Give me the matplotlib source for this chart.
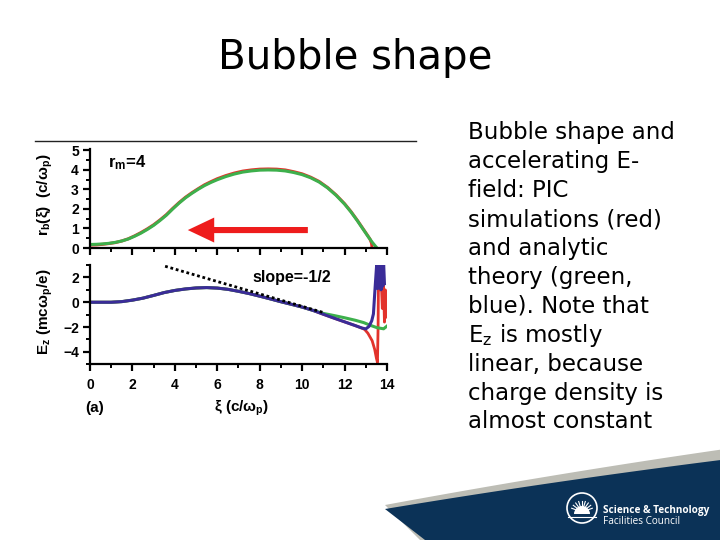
import numpy as np
import matplotlib.pyplot as plt
from matplotlib.patches import Polygon, Circle, Wedge

# top panel: bubble radius r_b(xi)
xi_rb_green = [0, 0.3, 0.6, 0.9, 1.2, 1.5, 1.8, 2.1, 2.4, 2.7, 3.0, 3.3, 3.6, 3.9,
               4.2, 4.5, 4.8, 5.1, 5.4, 5.7, 6.0, 6.4, 6.8, 7.2, 7.6, 8.0, 8.4,
               8.8, 9.2, 9.6, 10.0, 10.4, 10.8, 11.2, 11.6, 12.0, 12.3, 12.6,
               12.9, 13.1, 13.3, 13.45, 13.53]
rb_green = [0.18, 0.19, 0.21, 0.24, 0.29, 0.36, 0.46, 0.6, 0.76, 0.95, 1.16, 1.41,
            1.68, 2.0, 2.3, 2.57, 2.8, 3.01, 3.2, 3.36, 3.5, 3.66, 3.79, 3.89,
            3.95, 3.99, 4.0, 3.99, 3.95, 3.87, 3.76, 3.6, 3.38, 3.08, 2.7, 2.25,
            1.85, 1.4, 0.92, 0.6, 0.3, 0.1, 0.0]
xi_rb_red = [0, 0.3, 0.6, 0.9, 1.2, 1.5, 1.8, 2.1, 2.4, 2.7, 3.0, 3.3, 3.6, 3.9,
             4.2, 4.5, 4.8, 5.1, 5.4, 5.7, 6.0, 6.4, 6.8, 7.2, 7.6, 8.0, 8.4,
             8.8, 9.2, 9.6, 10.0, 10.4, 10.8, 11.2, 11.6, 12.0, 12.3, 12.6,
             12.9, 13.1, 13.2, 13.27, 13.3]
rb_red = [0.15, 0.16, 0.19, 0.23, 0.28, 0.36, 0.47, 0.62, 0.79, 0.98, 1.19, 1.44,
          1.71, 2.03, 2.33, 2.6, 2.83, 3.04, 3.24, 3.4, 3.55, 3.71, 3.84, 3.94,
          4.0, 4.04, 4.05, 4.04, 4.0, 3.91, 3.8, 3.63, 3.41, 3.1, 2.72, 2.27,
          1.87, 1.42, 0.94, 0.62, 0.45, 0.25, 0.0]

# bottom panel: accelerating field E_z
xi_ez_blue = [0, 0.5, 1.0, 1.5, 2.0, 2.5, 3.0, 3.5, 4.0, 4.5, 5.0, 5.5, 6.0, 6.5,
              7.0, 7.5, 8.0, 8.5, 9.0, 9.5, 10.0, 10.5, 11.0, 11.5, 12.0, 12.5,
              12.8, 13.0, 13.15, 13.28, 13.36, 13.44, 13.52, 13.56, 13.6, 13.64,
              13.68, 13.72, 13.76, 13.8, 13.84, 13.88]
ez_blue = [0, 0, 0.0, 0.05, 0.17, 0.33, 0.55, 0.78, 0.95, 1.07, 1.15, 1.18, 1.14,
           1.04, 0.88, 0.7, 0.49, 0.27, 0.04, -0.17, -0.39, -0.65, -0.97, -1.28,
           -1.58, -1.88, -2.07, -2.15, -1.95, -1.5, -0.94, 1.2, 3.2, 1.1, 3.2,
           1.2, 3.2, 1.0, 3.2, 1.3, 3.2, 1.5]
xi_ez_green = [0, 0.5, 1.0, 1.5, 2.0, 2.5, 3.0, 3.5, 4.0, 4.5, 5.0, 5.5, 6.0, 6.5,
               7.0, 7.5, 8.0, 8.5, 9.0, 9.5, 10.0, 10.5, 11.0, 11.5, 12.0, 12.5,
               12.9, 13.2, 13.53, 13.84, 14.0]
ez_green = [0, 0, 0.0, 0.05, 0.17, 0.33, 0.55, 0.78, 0.95, 1.07, 1.15, 1.18, 1.14,
            1.04, 0.88, 0.7, 0.49, 0.27, 0.04, -0.17, -0.39, -0.65, -0.9, -1.07,
            -1.25, -1.45, -1.64, -1.85, -2.05, -2.14, -1.92]
xi_ez_red = [0, 0.5, 1.0, 1.5, 2.0, 2.5, 3.0, 3.5, 4.0, 4.5, 5.0, 5.5, 6.0, 6.5,
             7.0, 7.5, 8.0, 8.5, 9.0, 9.5, 10.0, 10.5, 11.0, 11.5, 12.0, 12.5,
             12.8, 12.95, 13.1, 13.3, 13.42, 13.5, 13.55, 13.58, 13.6, 13.66,
             13.72, 13.78, 13.83, 13.88, 13.92, 13.95]
ez_red = [0, 0, 0.0, 0.05, 0.17, 0.33, 0.55, 0.78, 0.95, 1.07, 1.15, 1.18, 1.14,
          1.04, 0.88, 0.7, 0.49, 0.27, 0.04, -0.17, -0.39, -0.65, -0.97, -1.28,
          -1.58, -1.88, -2.07, -2.2, -2.5, -3.1, -3.8, -4.5, -4.85, -2.0, 2.2,
          1.0, 2.0, -0.5, 1.8, -1.6, 1.0, -1.2]
slope_x = [3.54, 11.0]
slope_y = [2.9, -0.83]

body_lines = ["Bubble shape and", "accelerating E-", "field: PIC",
              "simulations (red)", "and analytic", "theory (green,",
              "blue). Note that", r"E$_\mathregular{z}$ is mostly",
              "linear, because", "charge density is", "almost constant"]

RED = '#e2332c'
GREEN = '#3db04c'
BLUE = '#3a2c98'
NAVY = '#0b3257'

plt.rcParams['mathtext.fontset'] = 'custom'
plt.rcParams['mathtext.rm'] = 'Liberation Sans:bold'
plt.rcParams['mathtext.it'] = 'Liberation Sans:bold'
plt.rcParams['mathtext.bf'] = 'Liberation Sans:bold'

fig = plt.figure(figsize=(7.2, 5.4), dpi=100)

# slide background: banner and logo
bg = fig.add_axes([0, 0, 1, 1])
bg.set_xlim(0, 720)
bg.set_ylim(540, 0)
bg.axis('off')
bx = np.linspace(385, 720, 60)
gray_top = 505 - (bx - 385) * 0.165 - 0.00006 * (bx - 385) * (720 - bx)
blue_top = 509 - (bx - 385) * 0.146 - 0.00006 * (bx - 385) * (720 - bx)
bg.add_patch(Polygon(np.column_stack([np.r_[bx, 720, 420], np.r_[gray_top, 540, 540]]),
                     closed=True, fc='#bdbdb5', ec='none'))
bg.add_patch(Polygon(np.column_stack([np.r_[bx, 720, 425], np.r_[blue_top, 540, 540]]),
                     closed=True, fc=NAVY, ec='none'))
bg.add_patch(Circle((582, 508), 15, fc='none', ec='white', lw=1.2))
bg.add_patch(Wedge((582, 514), 8, 180, 360, fc='white', ec='none'))
for a in np.linspace(200, 340, 9):
    r = np.deg2rad(a)
    bg.plot([582 + 3 * np.cos(r), 582 + 11 * np.cos(r)],
            [512 + 3 * np.sin(r), 512 + 11 * np.sin(r)], color='white', lw=0.8)
bg.plot([568, 596], [517, 517], color='white', lw=0.8)
bg.text(603, 510, "Science & Technology", color='white', fontsize=7.2,
        fontweight='bold', family='Open Sans', va='center')
bg.text(603, 521, "Facilities Council", color='white', fontsize=7.2,
        family='Open Sans', va='center')
bg.plot([35, 416], [141, 141], color='#222222', lw=1.0)

fig.text(355 / 720, 1 - 58 / 540, "Bubble shape", fontsize=29, family='DejaVu Sans',
         ha='center', va='center')
for i, line in enumerate(body_lines):
    fig.text(468 / 720, 1 - (133 + 28.9 * i) / 540, line, fontsize=16.5,
             family='DejaVu Sans', ha='left', va='center')

tick_font = dict(family='Liberation Sans', weight='bold', size=10)


def style(ax):
    for s in ['top', 'right']:
        ax.spines[s].set_visible(False)
    for s in ['left', 'bottom']:
        ax.spines[s].set_linewidth(1.6)
    ax.tick_params(which='major', direction='out', length=5, width=1.6, pad=3)
    ax.tick_params(axis='x', which='major', pad=5)
    ax.tick_params(which='minor', direction='out', length=3, width=1.4)
    ax.set_xlim(0, 14)
    ax.set_xticks(np.arange(0, 15, 2))
    ax.set_xticks(np.arange(1, 14, 2), minor=True)
    ax.patch.set_alpha(0)


ax1 = fig.add_axes([0.125, (540 - 248) / 540, 297 / 720, 99.5 / 540])
ax1.plot(xi_rb_red, rb_red, color=RED, lw=2.2)
ax1.plot(xi_rb_green, rb_green, color=GREEN, lw=2.2)
style(ax1)
ax1.set_ylim(0, 5.1)
ax1.set_yticks(np.arange(0, 6, 1))
ax1.set_yticks(np.arange(0.5, 5, 1), minor=True)
ax1.set_xticklabels([])
for t in ax1.get_yticklabels():
    t.set_fontproperties(tick_font)
ax1.text(0.85, 4.4, r"r$_\mathrm{m}$=4", fontsize=12, family='Liberation Sans',
         weight='bold', va='center')
ax1.annotate('', xy=(4.48, 0.92), xytext=(10.4, 0.92),
             arrowprops=dict(arrowstyle='simple,head_length=0.95,head_width=0.9,tail_width=0.22',
                             mutation_scale=20, color='#ee1c1c', lw=0))

ax2 = fig.add_axes([0.125, (540 - 364.3) / 540, 297 / 720, 99.3 / 540])
ax2.plot(xi_ez_red, ez_red, color=RED, lw=2)
ax2.plot(xi_ez_green, ez_green, color=GREEN, lw=2.2)
ax2.plot(xi_ez_blue, ez_blue, color=BLUE, lw=2.2)
ax2.plot(slope_x, slope_y, color='black', ls=(0, (1, 1)), lw=2)
style(ax2)
ax2.set_ylim(-5, 3)
ax2.set_yticks([-4, -2, 0, 2])
ax2.set_yticks([-5, -3, -1, 1, 3], minor=True)
for t in ax2.get_yticklabels() + ax2.get_xticklabels():
    t.set_fontproperties(tick_font)
ax2.text(7.64, 2.0, "slope=-1/2", fontsize=11.5, family='Liberation Sans',
         weight='bold', va='center')

lab = dict(family='Liberation Sans', weight='bold', size=11)
fig.text(45 / 720, 1 - 195 / 540, r"r$_\mathrm{b}$(ξ)  (c/ω$_\mathrm{p}$)", rotation=90,
         ha='center', va='center', **lab)
fig.text(45 / 720, 1 - 312 / 540, r"E$_\mathrm{z}$ (mcω$_\mathrm{p}$/e)", rotation=90,
         ha='center', va='center', **lab)
fig.text(242 / 720, 1 - 408 / 540, r"ξ (c/ω$_\mathrm{p}$)", ha='center', va='center', **lab)
fig.text(95 / 720, 1 - 408 / 540, "(a)", ha='center', va='center', **lab)

fig.savefig('out.png', dpi=100)
